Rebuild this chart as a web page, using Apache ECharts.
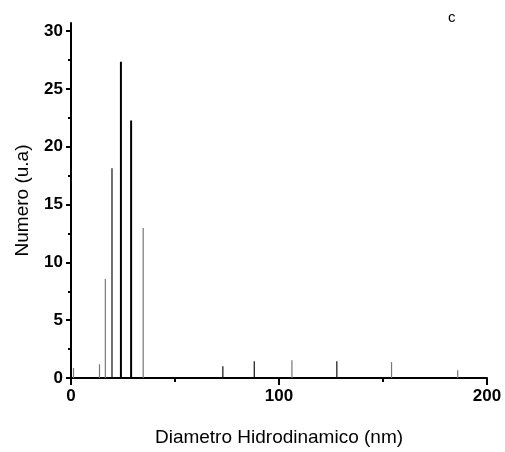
<!DOCTYPE html>
<html>
<head>
<meta charset="utf-8">
<script src="https://cdn.jsdelivr.net/npm/echarts@6/dist/echarts.min.js"></script>
<style>html,body{margin:0;padding:0;background:#fff}#c{width:505px;height:452px}</style>
</head>
<body>
<div id="c"></div>
<script>
// Data
var diameters = [1.4, 13.9, 16.7, 19.9, 24.0, 28.9, 34.9, 73.2, 88.3, 106.4, 128.0, 154.3, 186.1];
var counts    = [0.87, 1.18, 8.56, 18.14, 27.34, 22.27, 12.98, 1.01, 1.44, 1.53, 1.44, 1.38, 0.67];
var yMajorTicks = [0, 5, 10, 15, 20, 25, 30];
var yMinorTicks = [2.5, 7.5, 12.5, 17.5, 22.5, 27.5];
var xTitle = 'Diametro Hidrodinamico (nm)';
var yTitle = 'Numero (u.a)';
var panelLabel = 'c';

var thickIdx = [4, 5];
var darkIdx = [3, 8, 10, 7];
var seriesData = diameters.map(function (d, i) {
  return { value: [d, counts[i]] };
});

var chart = echarts.init(document.getElementById('c'), null, { renderer: 'canvas' });
var font = 'Liberation Sans, Arial, sans-serif';
var makeBarSeries = function (filterFn, color, width) {
  return {
    type: 'bar',
    barWidth: width,
    barGap: '-100%',
    itemStyle: { color: color },
    data: seriesData.filter(function (it, i) { return filterFn(i); }),
    silent: true,
    animation: false
  };
};
chart.setOption({
  animation: false,
  title: {
    text: panelLabel, left: 443, top: 5,
    textStyle: { fontFamily: font, fontSize: 15, fontWeight: 'normal', color: '#000' }
  },
  grid: { left: 71, right: 18, top: 23, bottom: 74 },
  xAxis: {
    type: 'value', min: 0, max: 200, interval: 100,
    name: xTitle, nameLocation: 'middle', nameGap: 50,
    nameTextStyle: { fontFamily: font, fontSize: 19, color: '#000' },
    axisLine: { show: true, lineStyle: { color: '#000', width: 2 } },
    axisTick: { show: true, inside: false, length: 7, lineStyle: { color: '#000', width: 2 } },
    minorTick: { show: true, splitNumber: 2, length: 4, lineStyle: { color: '#000', width: 2 } },
    axisLabel: { fontFamily: font, fontSize: 17, fontWeight: 'bold', color: '#000', margin: 10 },
    splitLine: { show: false }
  },
  yAxis: [{
    type: 'value', min: 0, max: 30.7,
    name: yTitle, nameLocation: 'middle', nameGap: 39, nameRotate: 90,
    nameTextStyle: { fontFamily: font, fontSize: 19, color: '#000' },
    axisLine: { show: true, onZero: false, lineStyle: { color: '#000', width: 2 } },
    axisTick: { show: true, length: 5, customValues: yMajorTicks, lineStyle: { color: '#000', width: 2 } },
    axisLabel: { fontFamily: font, fontSize: 17, fontWeight: 'bold', color: '#000', margin: 8, customValues: yMajorTicks },
    splitLine: { show: false }
  }, {
    type: 'value', min: 0, max: 30.7, position: 'left',
    axisLine: { show: false },
    axisTick: { show: true, length: 3, customValues: yMinorTicks, lineStyle: { color: '#000', width: 2 } },
    axisLabel: { show: false },
    splitLine: { show: false }
  }],
  series: [
    makeBarSeries(function (i) { return thickIdx.indexOf(i) < 0 && darkIdx.indexOf(i) < 0; }, '#777', 1.2),
    makeBarSeries(function (i) { return darkIdx.indexOf(i) >= 0; }, '#111', 1.2),
    makeBarSeries(function (i) { return thickIdx.indexOf(i) >= 0; }, '#000', 2)
  ]
});
</script>
</body>
</html>
